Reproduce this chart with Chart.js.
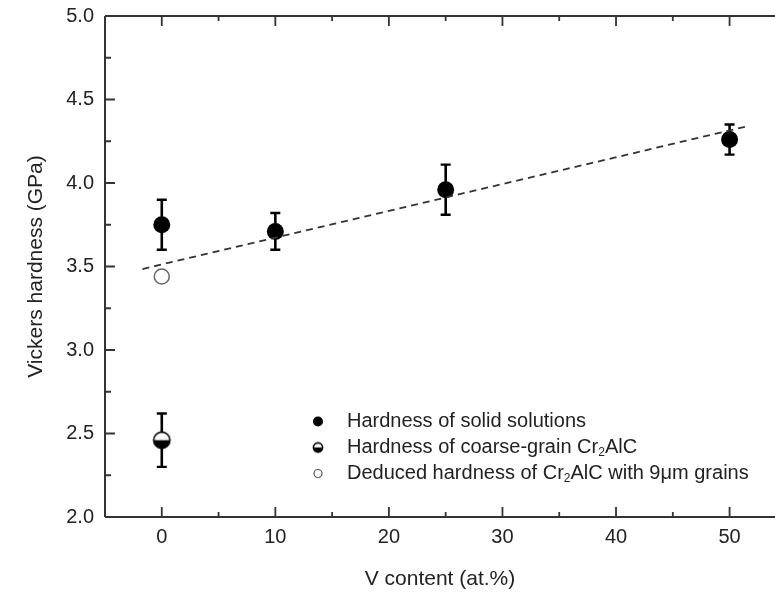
<!DOCTYPE html>
<html>
<head>
<meta charset="utf-8">
<script src="https://cdn.jsdelivr.net/npm/chart.js@4.4.1/dist/chart.umd.min.js"></script>
<style>
  html, body { margin: 0; padding: 0; background: #fff; }
  #wrap { width: 775px; height: 596px; }
</style>
</head>
<body>
<div id="wrap"><canvas id="c" width="775" height="596"></canvas></div>
<script>
// V content (at.%) and measured Vickers hardness (GPa)
const solidX = [0, 10, 25, 50];
const solidY = [3.75, 3.71, 3.96, 4.26];
const solidErr = [0.15, 0.11, 0.15, 0.09];

const coarseX = [0];
const coarseY = [2.46];
const coarseErr = [0.16];

const deducedX = [0];
const deducedY = [3.44];

// linear trend through the solid-solution data
const fitX = [-1.7, 51.4];
const fitY = [3.485, 4.337];

const xTicks = [0, 10, 20, 30, 40, 50];
const xMinor = [5, 15, 25, 35, 45];
const yTicks = [2.0, 2.5, 3.0, 3.5, 4.0, 4.5, 5.0];
const yMinor = [2.25, 2.75, 3.25, 3.75, 4.25, 4.75];

const seriesLabels = [
  'Hardness of solid solutions',
  'Hardness of coarse-grain Cr<sub>2</sub>AlC',
  'Deduced hardness of Cr<sub>2</sub>AlC with 9\u03bcm grains'
];

const INK = '#222';
const FONT = '"Liberation Sans", Arial, sans-serif';

// half-filled marker: white upper half, black lower half
function halfMarker(r) {
  const s = Math.ceil(2 * r + 4);
  const cv = document.createElement('canvas');
  cv.width = s; cv.height = s;
  const g = cv.getContext('2d');
  const c = s / 2;
  g.fillStyle = '#fff';
  g.beginPath(); g.arc(c, c, r, 0, Math.PI * 2); g.fill();
  g.fillStyle = '#000';
  g.beginPath(); g.arc(c, c, r, 0, Math.PI); g.closePath(); g.fill();
  g.strokeStyle = '#000'; g.lineWidth = 1.6;
  g.beginPath(); g.arc(c, c, r - 0.4, 0, Math.PI * 2); g.stroke();
  return cv;
}

const toPts = (xs, ys) => xs.map((x, i) => ({ x: x, y: ys[i] }));

// vertical error bars with caps
const errorBars = {
  id: 'errorBars',
  beforeDatasetsDraw(chart) {
    const { ctx, scales: { x, y } } = chart;
    const sets = [[solidX, solidY, solidErr], [coarseX, coarseY, coarseErr]];
    ctx.save();
    ctx.strokeStyle = '#000';
    sets.forEach(([xs, ys, es]) => {
      xs.forEach((xv, i) => {
        const px = x.getPixelForValue(xv);
        const top = y.getPixelForValue(ys[i] + es[i]);
        const bot = y.getPixelForValue(ys[i] - es[i]);
        ctx.lineWidth = 2.6;
        ctx.beginPath(); ctx.moveTo(px, top); ctx.lineTo(px, bot); ctx.stroke();
        ctx.lineWidth = 2.4;
        ctx.beginPath();
        ctx.moveTo(px - 5, top); ctx.lineTo(px + 5, top);
        ctx.moveTo(px - 5, bot); ctx.lineTo(px + 5, bot);
        ctx.stroke();
      });
    });
    ctx.restore();
  }
};

// frame lines with inward major/minor ticks on left, bottom and top
const frame = {
  id: 'frame',
  afterDraw(chart) {
    const { ctx, chartArea: a, scales: { x, y } } = chart;
    ctx.save();
    ctx.strokeStyle = '#333';
    ctx.lineWidth = 2;
    ctx.beginPath();
    ctx.moveTo(a.left, a.top); ctx.lineTo(a.right, a.top);
    ctx.moveTo(a.left, a.top); ctx.lineTo(a.left, a.bottom);
    ctx.moveTo(a.left, a.bottom); ctx.lineTo(a.right, a.bottom);
    ctx.stroke();
    ctx.lineWidth = 1.8;
    ctx.beginPath();
    const tx = (v, len) => {
      const p = x.getPixelForValue(v);
      ctx.moveTo(p, a.bottom); ctx.lineTo(p, a.bottom - len);
      ctx.moveTo(p, a.top); ctx.lineTo(p, a.top + len);
    };
    const ty = (v, len) => {
      const p = y.getPixelForValue(v);
      ctx.moveTo(a.left, p); ctx.lineTo(a.left + len, p);
    };
    xTicks.forEach(v => tx(v, 10));
    xMinor.forEach(v => tx(v, 5));
    yTicks.forEach(v => ty(v, 10));
    yMinor.forEach(v => ty(v, 6));
    ctx.stroke();
    ctx.restore();
  }
};

// text with <sub> runs
function drawRich(ctx, str, x, y, size) {
  const parts = str.split(/(<sub>.*?<\/sub>)/).filter(s => s.length);
  let cx = x;
  parts.forEach(p => {
    const m = p.match(/^<sub>(.*)<\/sub>$/);
    if (m) {
      ctx.font = Math.round(size * 0.62) + 'px ' + FONT;
      ctx.fillText(m[1], cx, y + size * 0.28);
      cx += ctx.measureText(m[1]).width;
    } else {
      ctx.font = size + 'px ' + FONT;
      ctx.fillText(p, cx, y);
      cx += ctx.measureText(p).width;
    }
  });
}

const legendBox = {
  id: 'legendBox',
  afterDraw(chart, args, opts) {
    const { ctx, chartArea: a } = chart;
    const mx = a.left + opts.markerX;
    const tx = a.left + opts.textX;
    ctx.save();
    ctx.fillStyle = INK;
    ctx.textBaseline = 'middle';
    seriesLabels.forEach((lab, i) => {
      const yy = a.top + opts.firstRow + i * opts.rowGap;
      if (i === 0) {
        ctx.fillStyle = '#000';
        ctx.beginPath(); ctx.arc(mx, yy, 5, 0, Math.PI * 2); ctx.fill();
      } else if (i === 1) {
        ctx.drawImage(halfMarker(5), mx - 7, yy - 7);
      } else {
        ctx.strokeStyle = '#555'; ctx.lineWidth = 1.2;
        ctx.beginPath(); ctx.arc(mx, yy, 4, 0, Math.PI * 2); ctx.stroke();
      }
      ctx.fillStyle = INK;
      drawRich(ctx, lab, tx, yy, 20);
    });
    ctx.restore();
  }
};

new Chart(document.getElementById('c'), {
  type: 'scatter',
  data: {
    datasets: [
      {
        label: 'fit',
        data: toPts(fitX, fitY),
        showLine: true,
        borderColor: '#333',
        borderWidth: 1.8,
        borderDash: [7, 5],
        pointRadius: 0,
        fill: false
      },
      {
        label: seriesLabels[0],
        data: toPts(solidX, solidY),
        pointRadius: 8.5,
        pointBackgroundColor: '#000',
        pointBorderColor: '#000',
        pointBorderWidth: 0
      },
      {
        label: seriesLabels[1],
        data: toPts(coarseX, coarseY),
        pointStyle: halfMarker(8.5),
        pointRadius: 9
      },
      {
        label: seriesLabels[2],
        data: toPts(deducedX, deducedY),
        pointRadius: 7.5,
        pointBackgroundColor: '#fff',
        pointBorderColor: '#666',
        pointBorderWidth: 1.5
      }
    ]
  },
  options: {
    responsive: false,
    animation: false,
    events: [],
    layout: { autoPadding: false, padding: { top: 16, right: 0, left: 0, bottom: 0 } },
    plugins: {
      legend: { display: false },
      tooltip: { enabled: false },
      legendBox: { markerX: 213, textX: 242, firstRow: 405.5, rowGap: 26 }
    },
    scales: {
      x: {
        type: 'linear',
        min: -5,
        max: 54,
        afterBuildTicks: s => { s.ticks = xTicks.map(v => ({ value: v })); },
        afterFit: s => { s.height = 79; s.paddingLeft = 0; s.paddingRight = 0; },
        grid: { display: false, drawTicks: false },
        border: { display: false },
        ticks: { color: INK, font: { family: FONT, size: 20 }, padding: 8 },
        title: {
          display: true,
          text: 'V content (at.%)',
          color: INK,
          font: { family: FONT, size: 21 },
          padding: { top: 0, bottom: 4 }
        }
      },
      y: {
        type: 'linear',
        min: 2,
        max: 5,
        afterBuildTicks: s => { s.ticks = yTicks.map(v => ({ value: v })); },
        afterFit: s => { s.width = 105; s.paddingTop = 0; s.paddingBottom = 0; },
        grid: { display: false, drawTicks: false },
        border: { display: false },
        ticks: {
          color: INK,
          font: { family: FONT, size: 20 },
          padding: 11,
          callback: v => v.toFixed(1)
        },
        title: {
          display: true,
          text: 'Vickers hardness (GPa)',
          color: INK,
          font: { family: FONT, size: 21 },
          padding: { top: 24, bottom: 0 }
        }
      }
    }
  },
  plugins: [errorBars, frame, legendBox]
});
</script>
</body>
</html>
